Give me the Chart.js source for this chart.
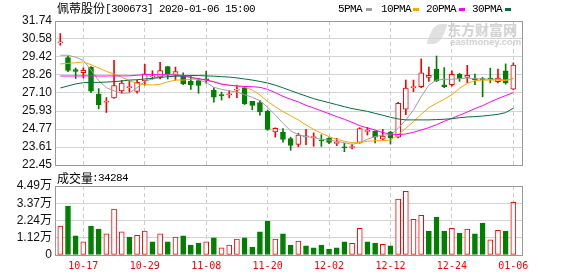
<!DOCTYPE html>
<html>
<head>
<meta charset="utf-8">
<script src="https://cdn.jsdelivr.net/npm/chart.js@4.4.1/dist/chart.umd.min.js"></script>
<style>
  body { margin: 0; background: #fff; width: 578px; height: 276px; overflow: hidden; position: relative; }
  .box { position: absolute; left: 0; width: 578px; }
  .t { position: absolute; white-space: nowrap; color: #000; }
  .cjk { font-family: "Noto Sans CJK SC", sans-serif; font-size: 12px; line-height: 12px; }
  .mono { font-family: "Liberation Mono", monospace; font-size: 11px; line-height: 11px; letter-spacing: -0.6px; }
  .sw { position: absolute; top: 8px; width: 6px; height: 3px; }
  .wm { position: absolute; color: #d2d2d2; font-weight: bold; white-space: nowrap; }
</style>
</head>
<body>
<div class="wm" style="left:430px;top:24px;width:14px;height:20px;border-radius:50% 10% 50% 10%;background:#e0e0e0;transform:skewX(-20deg)"></div>
<div class="wm" style="left:447px;top:22px;font-family:'Noto Sans CJK SC';font-size:14px;line-height:14px">东方财富网</div>
<div class="wm" style="left:450px;top:37px;font-family:'Liberation Sans';font-size:9.5px;line-height:9px">eastmoney.com</div>

<div class="box" style="top:0;height:180px"><canvas id="price"></canvas></div>
<div class="box" style="top:170px;height:106px"><canvas id="volume"></canvas></div>

<div class="t cjk" style="left:57px;top:2px">佩蒂股份</div>
<div class="t mono" style="left:105px;top:4px">[300673] 2020-01-06 15:00</div>

<div class="t mono" style="left:338px;top:4px">5PMA</div>
<div class="sw" style="left:366px;background:#a0a0a0"></div>
<div class="t mono" style="left:381px;top:4px">10PMA</div>
<div class="sw" style="left:413px;background:#ffa500"></div>
<div class="t mono" style="left:426px;top:4px">20PMA</div>
<div class="sw" style="left:459px;background:#ff00ff"></div>
<div class="t mono" style="left:472px;top:4px">30PMA</div>
<div class="sw" style="left:505px;background:#00703c"></div>

<div class="t cjk" style="left:57px;top:172px">成交量</div>
<div class="t mono" style="left:92px;top:173px">:34284</div>

<script>
// trading days shown (Oct 14 2019 .. Jan 6 2020)
const days = ['10-14','10-15','10-16','10-17','10-18','10-21','10-22','10-23','10-24','10-25',
  '10-28','10-29','10-30','10-31','11-01','11-04','11-05','11-06','11-07','11-08',
  '11-11','11-12','11-13','11-14','11-15','11-18','11-19','11-20','11-21','11-22',
  '11-25','11-26','11-27','11-28','11-29','12-02','12-03','12-04','12-05','12-06',
  '12-09','12-10','12-11','12-12','12-13','12-16','12-17','12-18','12-19','12-20',
  '12-23','12-24','12-25','12-26','12-27','12-30','12-31','01-02','01-03','01-06'];
const dateTicks = ['10-17','10-29','11-08','11-20','12-02','12-12','12-24','01-06'];

const opens = [30.33,29.38,28.60,28.40,28.75,27.02,26.51,26.77,27.23,27.44,
  27.20,27.88,28.14,28.13,28.80,28.26,28.20,27.87,27.90,27.98,
  27.26,27.00,26.98,27.28,27.45,26.55,26.47,25.92,24.58,24.56,
  24.15,23.78,24.26,24.22,24.06,24.17,23.85,23.60,23.58,23.90,
  24.62,24.62,24.12,24.58,24.25,26.05,27.44,27.50,28.10,28.64,
  27.62,27.63,28.32,28.10,28.02,28.02,28.02,27.82,28.52,27.35];
const highs = [30.93,29.46,28.71,28.73,28.80,27.38,26.80,29.20,27.91,27.85,
  27.92,28.95,28.53,29.07,28.82,28.77,28.40,28.20,28.05,28.50,
  27.45,27.15,27.25,27.60,27.52,26.56,26.62,26.00,24.85,24.80,
  24.24,24.50,24.75,24.52,24.40,24.22,24.17,23.85,23.80,24.86,
  24.88,24.65,24.75,24.62,26.50,27.93,27.93,29.29,28.77,29.48,
  28.73,28.52,28.36,28.88,28.32,28.10,28.70,28.64,28.97,29.04];
const lows = [30.18,28.47,28.03,28.06,27.12,26.08,25.84,26.75,27.08,27.15,
  27.08,27.60,27.98,28.00,28.00,27.92,27.64,27.33,27.08,27.72,
  26.50,26.64,26.78,26.80,26.35,26.01,25.67,24.68,24.25,23.92,
  23.40,23.62,23.76,23.66,23.65,23.82,23.70,23.31,23.48,23.85,
  24.38,23.88,24.05,23.80,24.20,25.70,27.18,27.44,27.85,27.83,
  27.44,27.53,27.85,27.76,27.64,26.85,27.75,27.75,27.66,27.30];
const closes = [30.36,28.55,28.49,28.55,27.22,26.35,26.58,27.58,27.73,27.44,
  27.78,28.33,28.14,28.54,28.33,28.47,27.68,27.63,27.58,27.95,
  26.83,26.92,27.02,27.32,26.40,26.30,25.88,24.75,24.82,24.10,
  23.71,24.38,24.26,24.22,24.00,23.90,23.85,23.56,23.60,24.80,
  24.62,24.24,24.32,24.20,26.43,27.42,27.47,28.39,28.24,27.87,
  27.50,28.30,28.02,28.24,27.96,27.94,27.98,28.05,27.74,28.90];

const ma5 = [29.53,29.53,29.40,29.20,28.58,27.89,27.44,27.23,27.07,27.10,
  27.44,27.83,28.02,28.17,28.28,28.32,28.24,28.11,27.94,27.78,
  27.46,27.33,27.23,27.16,26.99,26.82,26.60,26.17,25.68,25.14,
  24.65,24.41,24.28,24.22,24.11,24.06,23.98,23.89,23.78,23.89,
  24.11,24.28,24.39,24.39,24.82,25.36,26.00,26.86,27.61,27.93,
  27.98,27.98,28.02,28.06,28.02,28.00,27.98,27.96,27.94,28.02];
const ma10 = [28.97,29.01,29.05,29.10,28.92,28.71,28.49,28.32,28.11,27.89,
  27.72,27.63,27.61,27.66,27.81,27.93,27.93,27.98,28.00,27.93,
  27.83,27.68,27.59,27.55,27.46,27.29,26.97,26.54,26.21,25.89,
  25.63,25.36,25.03,24.75,24.50,24.28,24.11,23.98,23.89,23.89,
  23.98,24.02,24.02,24.06,24.39,24.82,25.25,25.72,26.15,26.43,
  26.69,26.99,27.40,27.72,27.89,27.93,27.93,27.93,27.89,28.04];
const ma20 = [28.19,28.19,28.19,28.20,28.20,28.19,28.19,28.20,28.20,28.20,
  28.24,28.28,28.28,28.28,28.27,28.24,28.17,28.11,28.02,27.93,
  27.81,27.66,27.60,27.55,27.52,27.50,27.46,27.33,27.12,26.88,
  26.69,26.52,26.30,26.13,25.94,25.76,25.57,25.40,25.20,24.99,
  24.84,24.71,24.54,24.45,24.41,24.45,24.56,24.71,24.86,25.05,
  25.27,25.46,25.66,25.87,26.09,26.28,26.52,26.73,26.93,27.12];
const ma30 = [27.42,27.55,27.68,27.76,27.78,27.78,27.80,27.83,27.87,27.93,
  27.95,28.00,28.04,28.09,28.15,28.18,28.20,28.22,28.22,28.20,
  28.18,28.15,28.12,28.07,28.00,27.93,27.84,27.74,27.60,27.43,
  27.25,27.07,26.90,26.73,26.60,26.47,26.34,26.21,26.09,26.00,
  25.91,25.78,25.66,25.53,25.42,25.36,25.36,25.36,25.36,25.38,
  25.40,25.44,25.50,25.55,25.57,25.61,25.66,25.72,25.83,26.11];

// volume in lots; 1 = red (up), 0 = green (down)
const volume = [18900,31900,12400,8500,18900,16900,13700,29900,15000,11700,
  12800,15600,8500,13700,8500,11700,12400,6500,7800,8500,
  11100,4600,6500,10400,11100,5200,15000,22100,10400,13700,
  6500,9100,5900,4600,6500,3900,4600,8500,7600,17400,
  8500,7800,6900,5900,36400,41400,23200,25800,15600,24700,
  15600,17400,14300,16900,13700,20800,9800,16100,15600,34284];
const volUp = [1,0,0,1,0,0,1,1,1,0, 1,1,0,1,0,1,0,0,0,1, 0,1,1,1,0,0,0,0,1,0,
  0,1,0,0,0,0,0,0,1,1, 0,0,1,0,1,1,1,1,0,0, 0,1,0,1,0,0,1,1,0,1];

const priceTicks = [22.45, 23.61, 24.77, 25.93, 27.10, 28.26, 29.42, 30.58, 31.74];
const volTicks = [0, 11200, 22400, 33700, 44900];

const RED = '#ff0000', GREEN = '#008000';
const tickIdx = dateTicks.map(d => days.indexOf(d));
const up = closes.map((c, i) => c >= opens[i]);

const frame = {
  id: 'frame',
  afterDraw(c) {
    const { ctx, chartArea: a } = c;
    ctx.save();
    ctx.strokeStyle = '#999';
    ctx.lineWidth = 1;
    ctx.strokeRect(Math.round(a.left) + 0.5, Math.round(a.top) + 0.5,
      Math.round(a.right - a.left), Math.round(a.bottom - a.top));
    ctx.restore();
  }
};

function xScale(showLabels) {
  return {
    type: 'linear', min: -0.69, max: 60.13, offset: false,
    afterBuildTicks: s => { s.ticks = tickIdx.map(v => ({ value: v })); },
    afterFit: s => { s.height = showLabels ? 21 : 0; },
    grid: { color: '#cccccc', offset: false, drawTicks: false },
    border: { display: false, dash: [4, 3] },
    ticks: {
      display: showLabels, autoSkip: false, maxRotation: 0, padding: 5, color: RED,
      font: { family: 'DejaVu Sans Mono', size: 10 },
      callback: (v, i) => dateTicks[i]
    }
  };
}

function yScale(ticks, fmt) {
  return {
    min: ticks[0], max: ticks[ticks.length - 1],
    afterBuildTicks: s => { s.ticks = ticks.map(v => ({ value: v })); },
    afterFit: s => { s.width = 55; },
    grid: { color: '#d4d4d4', drawTicks: false },
    border: { display: false },
    ticks: {
      padding: 3, color: '#111', autoSkip: false,
      font: { family: '"Liberation Sans", "Noto Sans CJK SC"', size: 12 },
      callback: fmt
    }
  };
}

const common = {
  responsive: true, maintainAspectRatio: false, animation: false,
  plugins: { legend: { display: false }, tooltip: { enabled: false } }
};

const maLine = (data, color) => ({
  type: 'line', data: data.map((y, i) => ({ x: i, y })), borderColor: color,
  borderWidth: 1, pointRadius: 0, tension: 0, order: 0
});

new Chart(document.getElementById('price'), {
  type: 'bar',
  data: {
    datasets: [
      maLine(ma30, '#00703c'),
      maLine(ma20, '#ff00ff'),
      maLine(ma10, '#ffa500'),
      maLine(ma5, '#a0a0a0'),
      {
        data: opens.map((o, i) => ({ x: i, y: [o, closes[i]] })),
        backgroundColor: up.map(u => u ? '#ffffff' : GREEN),
        borderColor: up.map(u => u ? RED : GREEN),
        borderWidth: 1, borderSkipped: false, barThickness: 5,
        minBarLength: 1, grouped: false, order: 1
      },
      {
        data: lows.map((l, i) => ({ x: i, y: [l, highs[i]] })),
        backgroundColor: up.map(u => u ? RED : GREEN),
        borderWidth: 0, barThickness: 1, grouped: false, order: 2
      }
    ]
  },
  options: {
    ...common,
    layout: { padding: { top: 21, right: 56, bottom: 15, left: 0 } },
    scales: {
      x: xScale(false),
      y: yScale(priceTicks, v => v.toFixed(2))
    }
  },
  plugins: [frame]
});

new Chart(document.getElementById('volume'), {
  type: 'bar',
  data: {
    datasets: [{
      data: volume.map((v, i) => ({ x: i, y: v })),
      backgroundColor: volUp.map(u => u ? '#ffffff' : GREEN),
      borderColor: volUp.map(u => u ? RED : GREEN),
      borderWidth: 1, borderSkipped: false, barThickness: 5, grouped: false
    }]
  },
  options: {
    ...common,
    layout: { padding: { top: 16, right: 56, bottom: 0, left: 0 } },
    scales: {
      x: xScale(true),
      y: yScale(volTicks, v => v === 0 ? '0' : (v / 10000).toFixed(2) + '万')
    }
  },
  plugins: [frame]
});
</script>
</body>
</html>
